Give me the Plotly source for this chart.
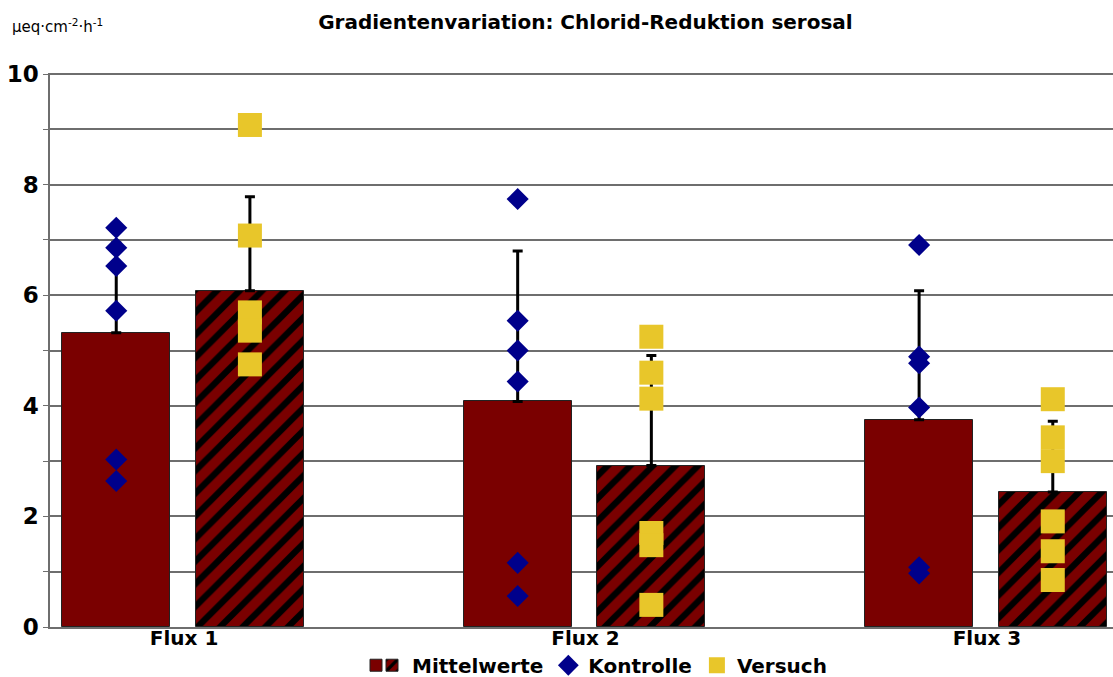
import numpy as np
import plotly.graph_objects as go

categories = ["Flux 1", "Flux 2", "Flux 3"]
mean_kontrolle = [5.32, 4.08, 3.75]
mean_versuch = [6.08, 2.92, 2.44]
err_kontrolle = [1.63, 2.72, 2.33]
err_versuch = [1.70, 1.99, 1.28]
kontrolle_points = [
    [7.22, 6.86, 6.53, 5.72, 3.03, 2.64],
    [7.74, 5.54, 5.00, 4.44, 1.16, 0.56],
    [6.91, 4.89, 4.77, 3.97, 1.08, 0.97],
]
versuch_points = [
    [9.08, 7.08, 5.69, 5.36, 4.75],
    [5.25, 4.60, 4.13, 1.70, 1.48, 0.40],
    [4.12, 3.43, 3.00, 1.91, 1.37, 0.85],
]
y_ticks = [0, 2, 4, 6, 8, 10]

FONT = "DejaVu Sans"
BAR = "#7a0000"
NAVY = "#00008b"
GOLD = "#e8c62a"
GRID = "#6e6e6e"

idx = np.arange(len(categories))
off_k, off_v, bw = -0.169, 0.164, 0.269

fig = go.Figure()
fig.add_trace(go.Bar(
    x=idx + off_k, y=mean_kontrolle, width=bw, name="",
    marker=dict(color=BAR, line=dict(color="#222", width=1)),
    error_y=dict(type="data", array=err_kontrolle, symmetric=False,
                 arrayminus=[0] * 3, color="black", thickness=3, width=5),
    legend="legend2",
))
fig.add_trace(go.Bar(
    x=idx + off_v, y=mean_versuch, width=bw, name="Mittelwerte",
    marker=dict(color=BAR, line=dict(color="#222", width=1),
                pattern=dict(shape="/", fgcolor="black", bgcolor=BAR,
                             fgopacity=1, size=16, solidity=0.4)),
    error_y=dict(type="data", array=err_versuch, symmetric=False,
                 arrayminus=[0] * 3, color="black", thickness=3, width=5),
    legendrank=2,
))

kx, ky, vx, vy = [], [], [], []
for i in idx:
    kx += [i + off_k] * len(kontrolle_points[i]); ky += kontrolle_points[i]
    vx += [i + off_v] * len(versuch_points[i]); vy += versuch_points[i]

fig.add_trace(go.Scatter(
    x=kx, y=ky, mode="markers", name="Kontrolle",
    marker=dict(symbol="diamond", size=17, color=NAVY), legendrank=3,
))
fig.add_trace(go.Scatter(
    x=vx, y=vy, mode="markers", name="Versuch",
    marker=dict(symbol="square", size=24, color=GOLD), legendrank=4,
))

legend_font = dict(family=FONT, size=20, weight="bold")
fig.update_layout(
    width=1113, height=677,
    margin=dict(l=50, r=0, t=73, b=50, autoexpand=False),
    plot_bgcolor="white", paper_bgcolor="white",
    font=dict(family=FONT, color="black"),
    title=dict(text="Gradientenvariation: Chlorid-Reduktion serosal",
               x=0.526, xanchor="center", y=0.968, yanchor="middle",
               font=dict(family=FONT, size=20, weight="bold")),
    showlegend=True,
    legend=dict(orientation="h", x=(372 - 50) / 1063, xanchor="left", y=-0.069,
                yanchor="middle", font=legend_font, bgcolor="rgba(0,0,0,0)",
                itemwidth=30, traceorder="normal"),
    legend2=dict(orientation="h", x=(356 - 50) / 1063, xanchor="left", y=-0.069,
                 yanchor="middle", font=legend_font, bgcolor="rgba(0,0,0,0)",
                 itemwidth=30),
    bargap=0,
)
fig.update_xaxes(
    range=[-0.334, 2.314], tickvals=idx, ticktext=categories, automargin=False,
    showgrid=False, zeroline=False, showline=True, linecolor=GRID, linewidth=1.5,
    ticks="", ticklabelstandoff=-8, tickfont=dict(family=FONT, size=20, weight="bold"),
)
fig.update_yaxes(
    range=[0, 10.02], tickvals=y_ticks, showgrid=True, gridcolor=GRID, gridwidth=1.5,
    zeroline=False, showline=True, linecolor=GRID, linewidth=1.5, automargin=False,
    ticks="outside", ticklen=5, tickcolor=GRID,
    tickfont=dict(family=FONT, size=23, weight="bold"),
    minor=dict(dtick=1, showgrid=True, gridcolor=GRID, gridwidth=1.5,
               ticks="outside", ticklen=5, tickcolor=GRID),
)
fig.add_annotation(
    text="µeq·cm<sup>-2</sup>·h<sup>-1</sup>", xref="paper", yref="paper",
    x=-0.038, y=1.084, xanchor="left", yanchor="middle", showarrow=False,
    font=dict(family=FONT, size=15),
)

fig.write_html(
    "out.html",
    config={"displayModeBar": False},
    post_script="document.body.style.margin='0';document.body.style.overflow='hidden';",
)
